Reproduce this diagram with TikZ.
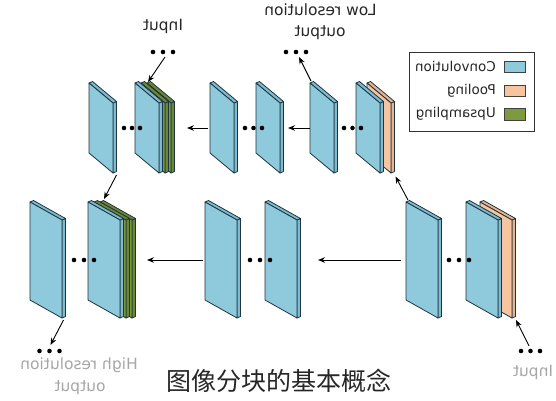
\documentclass[tikz,border=0pt]{standalone}
\usepackage{fontspec}
\usepackage{graphicx}
\setmainfont{DejaVu Sans}
\newfontfamily\cjk{Noto Sans CJK SC}
\usetikzlibrary{arrows.meta}
\definecolor{convc}{HTML}{8FCADC}
\definecolor{convs}{HTML}{7DBBD0}
\definecolor{poolc}{HTML}{F6C4A0}
\definecolor{pools}{HTML}{EBB48E}
\definecolor{upc}{HTML}{7D9A3E}
\definecolor{ups}{HTML}{6C8832}
\definecolor{edgec}{HTML}{1E3440}
\definecolor{txtdark}{HTML}{262626}
\definecolor{txtlight}{HTML}{A6A6A6}
% x y w h s frontfill sidefill
\newcommand\myslab[7]{%
  \filldraw[slabline, fill=#7] ({#1+#3},{#2+#5}) -- ++(3.5,-1.5) -- ++(0,#4) -- ({#1+#3},{#2+#5+#4}) -- cycle;
  \filldraw[slabline, fill=#7] (#1,#2) -- ++(3.5,-1.5) -- ({#1+#3+3.5},{#2+#5-1.5}) -- ({#1+#3},{#2+#5}) -- cycle;
  \filldraw[slabline, fill=#6] (#1,#2) -- ({#1+#3},{#2+#5}) -- ({#1+#3},{#2+#5+#4}) -- (#1,{#2+#4}) -- cycle;
}
\newcommand\topslab[3]{\myslab{#1}{83}{24}{70}{20}{#2}{#3}}
\newcommand\botslab[3]{\myslab{#1}{202}{32}{98}{18}{#2}{#3}}
\newcommand\mydots[4]{%
  \fill[black] (#1,#4) circle (2.3) (#2,#4) circle (2.3) (#3,#4) circle (2.3);
}
\begin{document}
\begin{tikzpicture}[x=1bp,y=-1bp,
  slabline/.style={draw=edgec, line width=0.8bp, line join=round},
  arr/.style={-{Stealth[length=7bp,width=5.5bp]}, line width=0.9bp, black},
  lbl/.style={inner sep=0pt, font=\fontsize{15.5bp}{18bp}\selectfont},
  leg/.style={inner sep=0pt, anchor=east, font=\fontsize{13.5bp}{16bp}\selectfont, text=txtdark},
  swatch/.style={draw=black!75, line width=0.9bp, minimum width=21bp, minimum height=11.5bp, inner sep=0pt}]
\useasboundingbox (0,0) rectangle (556,400);

% ---------- top row ----------
\topslab{89}{convc}{convs}
\topslab{147}{upc}{ups}
\topslab{141}{upc}{ups}
\topslab{135}{convc}{convs}
\mydots{124}{132}{140}{128}
\topslab{210}{convc}{convs}
\topslab{256}{convc}{convs}
\mydots{245}{253.5}{262}{128}
\topslab{310}{convc}{convs}
\topslab{367}{poolc}{pools}
\topslab{356}{convc}{convs}
\mydots{344}{352.5}{361}{128}

% ---------- bottom row ----------
\botslab{30}{convc}{convs}
\botslab{100}{upc}{ups}
\botslab{94}{upc}{ups}
\botslab{88}{convc}{convs}
\mydots{74}{84}{94}{260}
\botslab{205}{convc}{convs}
\botslab{265}{convc}{convs}
\mydots{250}{260}{270}{260}
\botslab{406}{convc}{convs}
\botslab{480}{poolc}{pools}
\botslab{466}{convc}{convs}
\mydots{449}{459}{469}{260}

% ---------- connector end points ----------
\coordinate (c1s) at (208,128);  \coordinate (c1e) at (187,128);
\coordinate (c2s) at (310,128);  \coordinate (c2e) at (288,128);
\coordinate (c3s) at (203,260);  \coordinate (c3e) at (147,260);
\coordinate (c4s) at (401,260);  \coordinate (c4e) at (318,260);
\coordinate (inTs) at (165,57);  \coordinate (inTe) at (148,82);
\coordinate (loS) at (311,81);   \coordinate (loE) at (299,57);
\coordinate (aS) at (116.5,175); \coordinate (aE) at (104,199);
\coordinate (kS) at (408,200);   \coordinate (kE) at (395.5,176.5);
\coordinate (gS) at (63.5,320);  \coordinate (gE) at (50.5,345);
\coordinate (inBs) at (529,346); \coordinate (inBe) at (516,320);

\draw[arr] (c1s) -- (c1e);
\draw[arr] (c2s) -- (c2e);
\draw[arr] (c3s) -- (c3e);
\draw[arr] (c4s) -- (c4e);
\draw[arr] (inTs) -- (inTe);
\draw[arr] (loS) -- (loE);
\draw[arr] (aS) -- (aE);
\draw[arr] (kS) -- (kE);
\draw[arr] (gS) -- (gE);
\draw[arr] (inBs) -- (inBe);

% label dots
\mydots{153}{163}{173}{52}
\mydots{286}{296}{306}{52}
\mydots{39.5}{49.5}{59.5}{351}
\mydots{521}{530.5}{540}{351}

% ---------- labels ----------
\node[lbl, text=txtdark] (inT) at (163,26) {\reflectbox{Input}};
\node[lbl, text=txtdark] (lo1) at (320.5,10) {\reflectbox{Low resolution}};
\node[lbl, text=txtdark] (lo2) at (320,33) {\reflectbox{output}};
\node[lbl, text=txtlight] (hi1) at (79,365) {\reflectbox{High resolution}};
\node[lbl, text=txtlight] (hi2) at (80,388) {\reflectbox{output}};
\node[lbl, text=txtlight] (inB) at (533,372) {\reflectbox{Input}};

% ---------- legend ----------
\node[draw=black!80, line width=1bp, minimum width=124.5bp, minimum height=78.5bp, inner sep=0pt, anchor=north west] (legend) at (409,52.3) {};
\node[swatch, fill=convc] (sw1) at (514.8,66.8) {};
\node[swatch, fill=poolc] (sw2) at (514.8,90.8) {};
\node[swatch, fill=upc] (sw3) at (514.8,114.2) {};
\node[leg] (lg1) at (496,66.8) {\reflectbox{Convolution}};
\node[leg] (lg2) at (496,90.8) {\reflectbox{Pooling}};
\node[leg] (lg3) at (496,114.2) {\reflectbox{Upsampling}};

% ---------- caption ----------
\node[inner sep=0pt, text=txtdark, font=\cjk\fontsize{25bp}{28bp}\selectfont] (cap) at (279,381) {图像分块的基本概念};
\end{tikzpicture}
\end{document}
